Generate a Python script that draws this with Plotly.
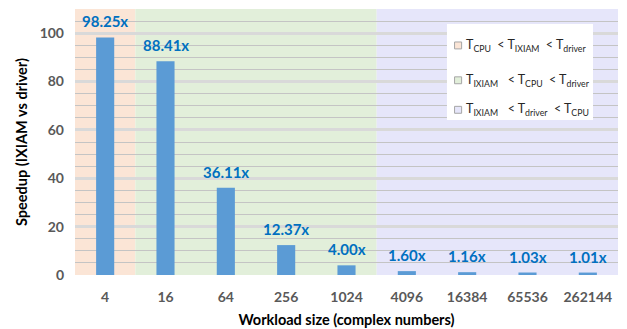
import plotly.graph_objects as go

# Workload sizes and measured speedups
sizes = ["4", "16", "64", "256", "1024", "4096", "16384", "65536", "262144"]
speedup = [98.25, 88.41, 36.11, 12.37, 4.00, 1.60, 1.16, 1.03, 1.01]

# Regimes: first/last category index covered, fill colour, legend text
band_first = [0, 1, 5]
band_last = [0, 4, 8]
band_colors = ["#FBE5D6", "#E2EFDA", "#E6E6FA"]
band_labels = [
    "T<sub>CPU</sub>  &lt; T<sub>IXIAM</sub>  &lt; T<sub>driver</sub>",
    "T<sub>IXIAM</sub>   &lt; T<sub>CPU</sub>  &lt; T<sub>driver</sub>",
    "T<sub>IXIAM</sub>   &lt; T<sub>driver</sub>  &lt; T<sub>CPU</sub>",
]

FONT = "Lato"
BAR = "#5B9BD5"
LABEL = "#0070C0"

fig = go.Figure()
fig.add_trace(go.Bar(
    x=list(range(len(sizes))), y=speedup, width=0.3,
    marker=dict(color=BAR, line=dict(width=0)),
    hoverinfo="skip", showlegend=False,
))

shapes = []
annotations = []
for f, l, c in zip(band_first, band_last, band_colors):
    shapes.append(dict(type="rect", xref="x", yref="paper",
                       x0=f - 0.5, x1=l + 0.5, y0=0, y1=1,
                       fillcolor=c, line=dict(width=0), layer="below"))

# value labels above each bar
for i, v in enumerate(speedup):
    annotations.append(dict(x=i, y=v, xref="x", yref="y", text=f"{v:.2f}x",
                            showarrow=False, yanchor="bottom", yshift=5,
                            font=dict(family=FONT, size=15, color=LABEL, weight="bold")))

# legend box
lx0, lx1, ly0, ly1 = 0.685, 0.954, 0.583, 0.944
shapes.append(dict(type="rect", xref="paper", yref="paper", x0=lx0, x1=lx1, y0=ly0, y1=ly1,
                   fillcolor="white", line=dict(width=0), layer="above"))
ys = [0.863, 0.732, 0.621]
for yv, c, t in zip(ys, band_colors, band_labels):
    shapes.append(dict(type="rect", xref="paper", yref="paper",
                       x0=0.699, x1=0.712, y0=yv - 0.013, y1=yv + 0.013,
                       fillcolor=c, line=dict(color="#A6A6A6", width=1), layer="above"))
    annotations.append(dict(x=0.717, y=yv, xref="paper", yref="paper", text=t,
                            showarrow=False, xanchor="left", yanchor="middle",
                            font=dict(family=FONT, size=12.5, color="#262626")))

fig.update_layout(
    width=627, height=329,
    margin=dict(l=75, r=9, t=9, b=54),
    paper_bgcolor="white", plot_bgcolor="white",
    bargap=0.7,
    shapes=shapes, annotations=annotations,
    font=dict(family=FONT),
    xaxis=dict(
        tickmode="array", tickvals=list(range(len(sizes))), ticktext=sizes,
        range=[-0.5, len(sizes) - 0.5], automargin=False,
        showgrid=False, zeroline=False, showline=False, ticks="",
        ticklabelstandoff=12,
        tickfont=dict(family=FONT, size=14, color="#595959", weight="bold"),
        title=dict(text="Workload size (complex numbers)", standoff=10,
                   font=dict(family=FONT, size=14.5, color="black", weight="bold")),
    ),
    yaxis=dict(
        range=[0, 110], tickvals=[0, 20, 40, 60, 80, 100], automargin=False,
        showgrid=True, gridcolor="#D9D9D9", gridwidth=3,
        minor=dict(dtick=5, showgrid=True, gridcolor="#C4C4C4", gridwidth=1),
        zeroline=False, showline=False, ticks="",
        ticklabelstandoff=10,
        tickfont=dict(family=FONT, size=14, color="#595959", weight="bold"),
        title=dict(text="Speedup (IXIAM vs driver)", standoff=8,
                   font=dict(family=FONT, size=14.5, color="black", weight="bold")),
    ),
)

fig.write_html("out.html")
